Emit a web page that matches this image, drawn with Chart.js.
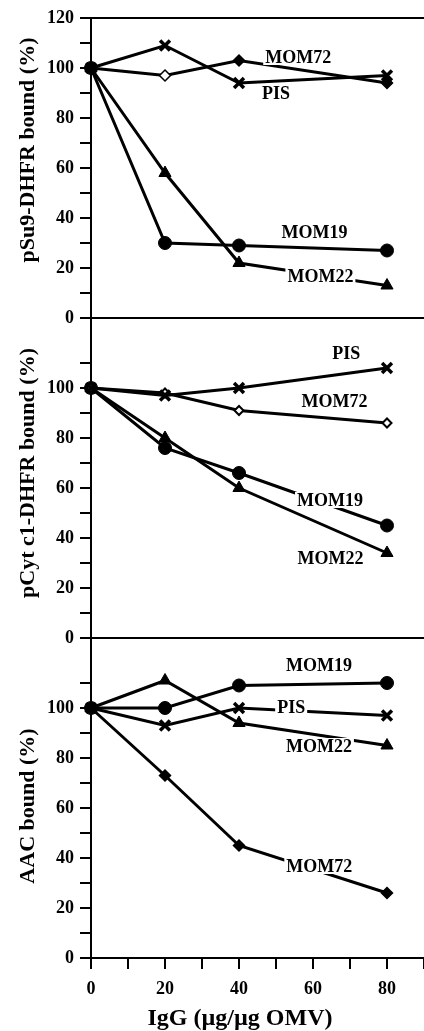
<!DOCTYPE html>
<html>
<head>
<meta charset="utf-8">
<script src="https://cdn.jsdelivr.net/npm/chart.js@4"></script>
<style>
  html, body { margin: 0; padding: 0; background: #fff; overflow: hidden; }
  body { width: 424px; height: 1031px; position: relative; }
  .panel { position: absolute; left: 0; width: 424px; }
</style>
</head>
<body>
<div class="panel" style="top:0;height:338px"><canvas id="su9Chart"></canvas></div>
<div class="panel" style="top:298px;height:360px"><canvas id="cytChart"></canvas></div>
<div class="panel" style="top:618px;height:413px"><canvas id="aacChart"></canvas></div>
<script>
// IgG doses (ug/ug OMV)
const doses = [0, 20, 40, 80];

// pSu9-DHFR bound (%)
const su9MOM19 = [100, 30, 29, 27];
const su9MOM22 = [100, 58, 22, 13];
const su9MOM72 = [100, 97, 103, 94];
const su9PIS   = [100, 109, 94, 97];

// pCyt c1-DHFR bound (%)
const cytMOM19 = [100, 76, 66, 45];
const cytMOM22 = [100, 80, 60, 34];
const cytMOM72 = [100, 98, 91, 86];
const cytPIS   = [100, 97, 100, 108];

// AAC bound (%)
const aacMOM19 = [100, 100, 109, 110];
const aacMOM22 = [100, 111, 94, 85];
const aacMOM72 = [100, 73, 45, 26];
const aacPIS   = [100, 93, 100, 97];

// tick values
const xTicks = [0, 10, 20, 30, 40, 50, 60, 70, 80, 90];
const yTicksTop = [0, 10, 20, 30, 40, 50, 60, 70, 80, 90, 100, 110, 120];
const yTicksLower = [0, 10, 20, 30, 40, 50, 60, 70, 80, 90, 100, 110];

const serif = 'Liberation Serif';

const markerStyle = {
  MOM19: { pointStyle: 'circle', radius: 6.5, border: 1 },
  MOM22: { pointStyle: 'triangle', radius: 7, border: 1 },
  MOM72: { pointStyle: 'rectRot', radius: 5.5, border: 1.5 },
  PIS:   { pointStyle: 'crossRot', radius: 7, border: 3.5 }
};

const makeSet = (name, values, fills) => {
  const m = markerStyle[name];
  const open = fills === '#fff';
  return {
    label: name,
    data: values.map((v, i) => ({ x: doses[i], y: v })),
    borderColor: '#000',
    borderWidth: 3,
    pointStyle: m.pointStyle,
    pointRadius: open ? 4.5 : m.radius,
    pointBackgroundColor: fills || '#000',
    pointBorderColor: '#000',
    pointBorderWidth: open ? 2 : m.border,
    tension: 0,
    fill: false,
    clip: false
  };
};

const panelDecor = {
  id: 'panelDecor',
  afterDatasetsDraw(chart, args, opts) {
    const ctx = chart.ctx, a = chart.chartArea, xs = chart.scales.x, ys = chart.scales.y;
    ctx.save();
    ctx.strokeStyle = '#000';
    ctx.lineWidth = 2;
    ctx.beginPath();
    if (opts.topLine) { ctx.moveTo(a.left, a.top); ctx.lineTo(a.right, a.top); }
    if (opts.bottomLine) { ctx.moveTo(a.left - 11, a.bottom); ctx.lineTo(a.right, a.bottom); }
    ctx.stroke();

    ctx.textAlign = 'center';
    ctx.textBaseline = 'middle';
    ctx.font = 'bold 18px "' + serif + '"';
    (opts.labels || []).forEach(l => {
      const px = xs.getPixelForValue(l.x), py = ys.getPixelForValue(l.y);
      const w = ctx.measureText(l.text).width;
      ctx.fillStyle = '#fff';
      ctx.fillRect(px - w / 2 - 2, py - 8, w + 4, 16);
      ctx.fillStyle = '#000';
      ctx.fillText(l.text, px, py + 1);
    });

    ctx.fillStyle = '#000';
    ctx.save();
    ctx.translate(28, (a.top + a.bottom) / 2 + (opts.titleShift || 0));
    ctx.rotate(-Math.PI / 2);
    ctx.font = 'bold 22px "' + serif + '"';
    ctx.fillText(opts.yTitle, 0, 0);
    ctx.restore();

    if (opts.xTitle) {
      ctx.font = 'bold 24px "' + serif + '"';
      ctx.fillText(opts.xTitle, a.left + 149, a.bottom + 61);
    }
    ctx.restore();
  }
};

const yScale = (tickList, max) => ({
  type: 'linear', min: 0, max: max,
  afterBuildTicks: s => { s.ticks = tickList.map(v => ({ value: v })); },
  afterFit: s => { s.width = 91; },
  ticks: {
    autoSkip: false, padding: 6, color: '#000',
    font: { family: serif, size: 18, weight: 'bold' },
    callback: v => (v % 20 === 0 ? v : '')
  },
  grid: { drawOnChartArea: false, drawTicks: true, tickLength: 11, color: '#000', lineWidth: 2 },
  border: { display: true, color: '#000', width: 2 }
});

const hiddenX = { type: 'linear', min: 0, max: 90, display: false };

const shownX = {
  type: 'linear', min: 0, max: 90,
  afterBuildTicks: s => { s.ticks = xTicks.map(v => ({ value: v })); },
  afterFit: s => { s.height = 73; s.paddingLeft = 0; s.paddingRight = 0; },
  ticks: {
    autoSkip: false, maxRotation: 0, padding: 10, color: '#000',
    font: { family: serif, size: 18, weight: 'bold' },
    callback: v => (v % 20 === 0 ? v : '')
  },
  grid: { drawOnChartArea: false, drawTicks: true, tickLength: 11, color: '#000', lineWidth: 2 },
  border: { display: true, color: '#000', width: 2 }
};

const makeChart = (id, datasets, xScale, yS, padding, decor) => new Chart(id, {
  type: 'line',
  data: { datasets: datasets },
  options: {
    responsive: true,
    maintainAspectRatio: false,
    animation: false,
    layout: { padding: padding, autoPadding: false },
    scales: { x: xScale, y: yS },
    plugins: { legend: { display: false }, tooltip: { enabled: false }, panelDecor: decor }
  },
  plugins: [panelDecor]
});

makeChart('su9Chart', [
  makeSet('PIS', su9PIS),
  makeSet('MOM72', su9MOM72, ['#000', '#fff', '#000', '#000']),
  makeSet('MOM19', su9MOM19),
  makeSet('MOM22', su9MOM22)
], hiddenX, yScale(yTicksTop, 120), { top: 18, bottom: 20, left: 0, right: 0 }, {
  topLine: true, bottomLine: true, yTitle: 'pSu9-DHFR bound (%)', titleShift: -18,
  labels: [
    { text: 'MOM72', x: 56, y: 104.4 },
    { text: 'PIS', x: 50, y: 90 },
    { text: 'MOM19', x: 60.4, y: 34.4 },
    { text: 'MOM22', x: 62, y: 16.8 }
  ]
});

makeChart('cytChart', [
  makeSet('PIS', cytPIS),
  makeSet('MOM72', cytMOM72, '#fff'),
  makeSet('MOM19', cytMOM19),
  makeSet('MOM22', cytMOM22)
], hiddenX, yScale(yTicksLower, 128), { top: 20, bottom: 20, left: 0, right: 0 }, {
  bottomLine: true, yTitle: 'pCyt c1-DHFR bound (%)', titleShift: -5,
  labels: [
    { text: 'PIS', x: 69, y: 114 },
    { text: 'MOM72', x: 65.8, y: 94.5 },
    { text: 'MOM19', x: 64.6, y: 55.2 },
    { text: 'MOM22', x: 64.7, y: 32 }
  ]
});

makeChart('aacChart', [
  makeSet('PIS', aacPIS),
  makeSet('MOM72', aacMOM72),
  makeSet('MOM19', aacMOM19),
  makeSet('MOM22', aacMOM22)
], shownX, yScale(yTicksLower, 128), { top: 20, bottom: 0, left: 0, right: 0 }, {
  yTitle: 'AAC bound (%)', titleShift: 8, xTitle: 'IgG (\u00b5g/\u00b5g OMV)',
  labels: [
    { text: 'MOM19', x: 61.6, y: 117.2 },
    { text: 'PIS', x: 54.1, y: 100.1 },
    { text: 'MOM22', x: 61.6, y: 84.8 },
    { text: 'MOM72', x: 61.7, y: 36.8 }
  ]
});
</script>
</body>
</html>
